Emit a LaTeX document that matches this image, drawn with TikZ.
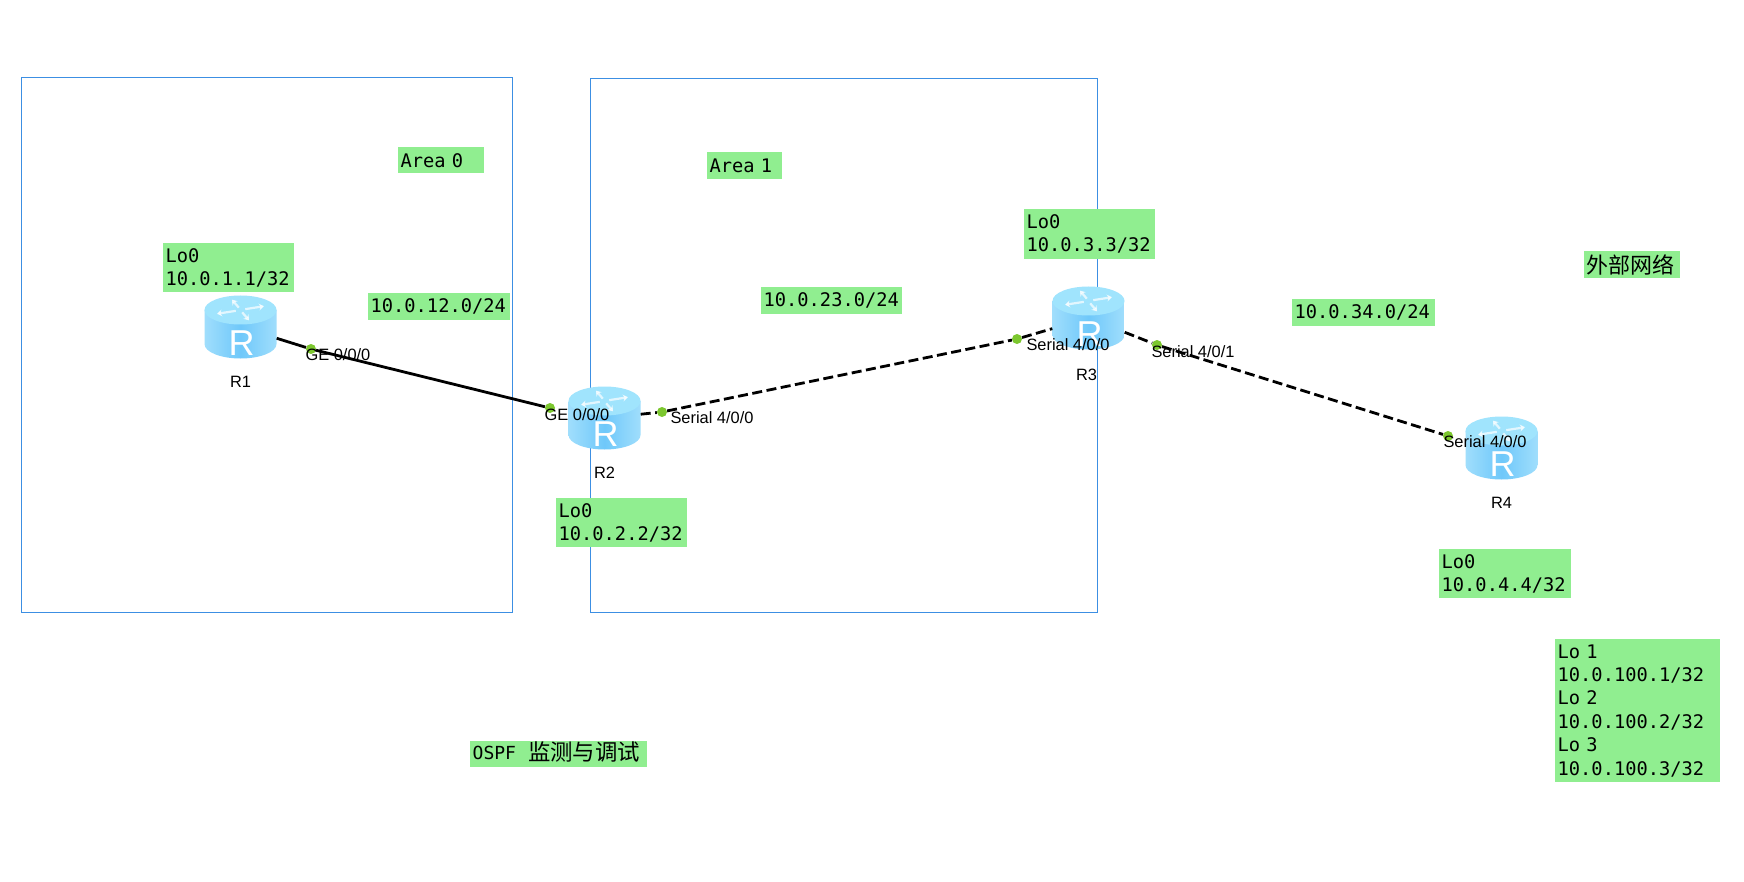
\documentclass[tikz,border=0pt]{standalone}
\usepackage{fontspec}
\setmainfont{Liberation Sans}
\newfontfamily\notefont{DejaVu Sans Mono}
\newfontfamily\cjkfont{Noto Sans CJK SC}
\usetikzlibrary{arrows.meta, calc}
\definecolor{notegreen}{HTML}{90EE90}
\definecolor{areablue}{HTML}{3C8FE3}
\definecolor{portgreen}{HTML}{7CC72F}
\definecolor{routertop}{HTML}{A0E4FD}
\definecolor{routerside}{HTML}{6FC8FA}
\definecolor{routeredge}{HTML}{A0DEFC}
\tikzset{
  areabox/.style={draw=areablue, line width=1.3pt},
  notebox/.style 2 args={fill=notegreen, anchor=north west, align=left, inner xsep=2.5pt, inner ysep=0pt,
    text width=#1pt-5pt, minimum height=#2pt, font=\notefont\fontsize{18.7}{23.4}\selectfont},
  port/.style={circle, fill=portgreen, inner sep=0pt, minimum size=10pt},
  portlabel/.style={font=\fontsize{16.4}{18}\selectfont, text=black, inner sep=0pt},
  routerbox/.style={minimum width=72pt, minimum height=63pt, inner sep=0pt},
  routermark/.style={text=white, inner sep=0pt, font=\fontsize{36}{36}\selectfont},
  routerlabel/.style={font=\fontsize{16.4}{18}\selectfont, text=black, inner sep=0pt},
  link/.style={line width=2.8pt, black},
  seriallink/.style={link, dash pattern=on 10pt off 4.5pt}
}
\begin{document}
\begin{tikzpicture}[x=1pt, y=-1pt]
  \useasboundingbox[fill=white] (0,0) rectangle (1744,882);

  % OSPF areas
  \node[areabox, anchor=north west, inner sep=0pt, minimum width=491pt, minimum height=535pt] (area0) at (21,77) {};
  \node[areabox, anchor=north west, inner sep=0pt, minimum width=507pt, minimum height=534pt] (area1) at (590,78) {};

  % Routers, the last two values move the name under the body
  \foreach \rname/\x/\y/\dx/\dy in {R1/240.5/327/0/0, R2/604.5/418/0/0, R3/1088.5/318/-2/2, R4/1501.5/448/0/0} {
    \node[routerbox] (\rname) at (\x,\y) {};
    \begin{scope}[shift={(\rname.center)}]
      \shade[left color=routeredge, right color=routeredge, middle color=routerside]
        (-36,-17) -- (-36,17) arc[start angle=180, end angle=0, x radius=36, y radius=14.5] -- (36,-17) -- cycle;
      \fill[routertop] (0,-17) ellipse[x radius=36, y radius=14.5];
      \foreach \a in {20,110,200,290} {
        \draw[white, opacity=.7, line width=2.2pt, -{Stealth[length=5pt, width=7pt]}]
          ($(0,-17)+(\a:5pt and 2.5pt)$) -- ($(0,-17)+(\a:25pt and 11pt)$);
      }
    \end{scope}
    \node[routermark] (\rname mark) at ([xshift=1pt, yshift=-16pt]\rname.center) {R};
    \node[routerlabel] (\rname label) at ([xshift=\dx pt, yshift=-55pt-\dy pt]\rname.center) {\rname};
  }

  % Ports
  \node[port] (r1ge) at (311,349) {};
  \node[port] (r2ge) at (550,408) {};
  \node[port] (r2ser) at (662,412) {};
  \node[port] (r3ser) at (1017,339) {};
  \node[port] (r3out) at (1157,345) {};
  \node[port] (r4ser) at (1448,436) {};

  % Links
  \draw[link] (R1) -- (r1ge) -- (r2ge);
  \draw[seriallink] (R2) -- (r2ser) -- (r3ser) -- (R3);
  \draw[seriallink] (R3) -- (r3out) -- (r4ser);

  % Port names
  \node[portlabel] (r1gename) at (338,355) {GE 0/0/0};
  \node[portlabel] (r2gename) at (577,415) {GE 0/0/0};
  \node[portlabel] (r2sername) at (712,418) {Serial 4/0/0};
  \node[portlabel] (r3sername) at (1068,345) {Serial 4/0/0};
  \node[portlabel] (r3outname) at (1193,352) {Serial 4/0/1};
  \node[portlabel] (r4sername) at (1485,442) {Serial 4/0/0};

  % Notes
  \node[notebox={86}{26}] (area0note) at (398,147) {Area 0};
  \node[notebox={75}{27}] (area1note) at (707,152) {Area 1};
  \node[notebox={142}{27}] (net12) at (368,293) {10.0.12.0/24};
  \node[notebox={141}{27}] (net23) at (761,287) {10.0.23.0/24};
  \node[notebox={143}{27}] (net34) at (1292,299) {10.0.34.0/24};
  \node[notebox={131}{49}] (r1lo) at (163,243) {Lo0\\10.0.1.1/32};
  \node[notebox={131}{49}] (r2lo) at (556,498) {Lo0\\10.0.2.2/32};
  \node[notebox={131}{50}] (r3lo) at (1024,209) {Lo0\\10.0.3.3/32};
  \node[notebox={132}{49}] (r4lo) at (1439,549) {Lo0\\10.0.4.4/32};
  \node[notebox={165}{143}] (r4extra) at (1555,639) {Lo 1\\10.0.100.1/32\\Lo 2\\10.0.100.2/32\\Lo 3\\10.0.100.3/32};
  \node[notebox={96}{27}] (external) at (1584,251) {{\cjkfont\fontsize{22}{23}\selectfont 外部网络}};
  \node[notebox={177}{26}] (title) at (470,741) {\smash{\raisebox{-5.5pt}{\fontsize{18}{23}\selectfont OSPF}\hspace{12pt}\raisebox{-6.5pt}{\cjkfont\fontsize{22.4}{23}\selectfont 监测与调试}}};
\end{tikzpicture}
\end{document}
